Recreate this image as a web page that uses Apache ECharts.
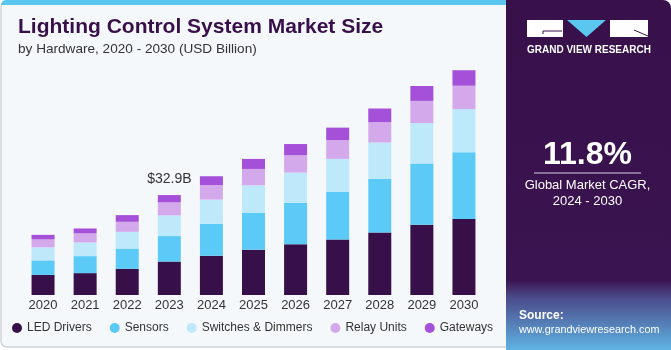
<!DOCTYPE html>
<html>
<head>
    <meta charset="utf-8" />
    <title>Lighting Control System Market Size</title>
    <script src="https://cdn.jsdelivr.net/npm/echarts@6/dist/echarts.min.js"></script>
    <style>
        html, body { margin: 0; padding: 0; background: #fff; }
        #container { width: 671px; height: 350px; }
    </style>
</head>
<body>
    <div id="container"></div>
</body>
</html>
<script>
    // data (USD Billion)
    var years = ['2020', '2021', '2022', '2023', '2024', '2025', '2026', '2027', '2028', '2029', '2030'];
    var ledDrivers = [6.6, 7.2, 8.6, 11.0, 12.9, 14.9, 16.7, 18.3, 20.6, 23.1, 25.0];
    var sensors = [4.8, 5.6, 6.7, 8.4, 10.5, 12.1, 13.7, 15.6, 17.6, 20.2, 22.0];
    var switchesDimmers = [4.3, 4.5, 5.5, 6.8, 8.0, 9.1, 9.9, 10.9, 12.0, 13.3, 14.2];
    var relayUnits = [2.6, 3.0, 3.3, 4.3, 4.8, 5.4, 5.7, 6.2, 6.7, 7.3, 7.7];
    var gateways = [1.5, 1.6, 2.2, 2.4, 2.9, 3.3, 3.7, 4.1, 4.5, 4.9, 5.1];
    var labelIndex = 3; // 2023 total shown on top

    var seriesNames = ['LED Drivers', 'Sensors', 'Switches & Dimmers', 'Relay Units', 'Gateways'];
    var seriesData = [ledDrivers, sensors, switchesDimmers, relayUnits, gateways];
    var colors = ['#37104a', '#5ccaf6', '#bde9fa', '#d4a9ec', '#a550d9'];

    function total(i) {
        var s = 0;
        seriesData.forEach(function (arr) { s += arr[i]; });
        return s;
    }

    var series = seriesData.map(function (arr, k) {
        var isTop = k === seriesData.length - 1;
        return {
            name: seriesNames[k],
            type: 'bar',
            stack: 'total',
            barWidth: 23,
            itemStyle: { color: colors[k] },
            data: arr.map(function (v, i) {
                if (isTop && i === labelIndex) {
                    return {
                        value: v,
                        label: {
                            show: true,
                            position: 'top',
                            distance: 9,
                            color: '#333',
                            fontSize: 14,
                            fontFamily: 'Liberation Sans',
                            formatter: function () { return '$' + total(labelIndex).toFixed(1) + 'B'; }
                        }
                    };
                }
                return v;
            })
        };
    });

    var dom = document.getElementById('container');
    var myChart = echarts.init(dom, null, { renderer: 'canvas' });

    var option = {
        backgroundColor: '#ffffff',
        animation: false,
        textStyle: { fontFamily: 'Liberation Sans' },
        title: [
            {
                text: 'Lighting Control System Market Size',
                left: 18, top: 17, padding: 0,
                textStyle: { fontSize: 21, fontWeight: 'bold', color: '#37104a', fontFamily: 'Liberation Sans' }
            },
            {
                text: 'by Hardware, 2020 - 2030 (USD Billion)',
                left: 18, top: 42, padding: 0,
                textStyle: { fontSize: 13.6, fontWeight: 'normal', color: '#333', fontFamily: 'Liberation Sans' }
            }
        ],
        legend: {
            left: 12, top: 322, padding: 0,
            icon: 'circle',
            itemWidth: 10, itemHeight: 10,
            itemGap: 18,
            textStyle: { fontSize: 12, color: '#333' },
            data: seriesNames
        },
        grid: { left: 22, right: 186, top: 52, bottom: 55 },
        xAxis: {
            type: 'category',
            data: years,
            axisLine: { show: false },
            axisTick: { show: false },
            axisLabel: { color: '#333', fontSize: 13, margin: 4 }
        },
        yAxis: {
            type: 'value',
            min: 0, max: 80,
            show: false,
            splitLine: { show: false }
        },
        graphic: [
            // card
            { type: 'rect', z: -10, shape: { x: 1, y: 1, width: 520, height: 346, r: 6 },
              style: { fill: '#f4f8fb', stroke: '#cfd3d8', lineWidth: 1.5 } },
            { type: 'rect', z: -9, shape: { x: 1, y: 0, width: 515, height: 5, r: [5, 0, 0, 0] },
              style: { fill: '#5bc6ef' } },
            // right panel
            { type: 'rect', z: -8, shape: { x: 506, y: 0, width: 165, height: 350, r: [0, 8, 0, 0] },
              style: {
                  fill: new echarts.graphic.LinearGradient(0, 0, 0, 1, [
                      { offset: 0, color: '#38104a' },
                      { offset: 0.8, color: '#3a1450' },
                      { offset: 0.85, color: '#4b4a8a' },
                      { offset: 1, color: '#5fb3e3' }
                  ])
              } },
            // logo
            { type: 'rect', shape: { x: 527, y: 20, width: 36, height: 17 }, style: { fill: '#fff' } },
            { type: 'polyline', shape: { points: [[543, 31], [562, 31]] }, style: { stroke: '#38104a', lineWidth: 1 } },
            { type: 'polyline', shape: { points: [[543, 31], [543, 34]] }, style: { stroke: '#38104a', lineWidth: 1 } },
            { type: 'polygon', shape: { points: [[567, 20], [606, 20], [586.5, 37]] }, style: { fill: '#5bc6ef' } },
            { type: 'rect', shape: { x: 610, y: 20, width: 38, height: 17 }, style: { fill: '#fff' } },
            { type: 'polyline', shape: { points: [[634, 30], [648, 36]] }, style: { stroke: '#38104a', lineWidth: 1 } },
            { type: 'text', left: 527, top: 45,
              style: { text: 'GRAND VIEW RESEARCH', fill: '#fff', font: 'bold 10px "Liberation Sans"' } },
            // CAGR
            { type: 'text', x: 587.5, y: 155,
              style: { text: '11.8%', fill: '#fff', font: 'bold 32px "Liberation Sans"', align: 'center', verticalAlign: 'middle' } },
            { type: 'line', shape: { x1: 534, y1: 173, x2: 641, y2: 173 }, style: { stroke: '#d8d0e0', lineWidth: 1 } },
            { type: 'text', x: 587.5, y: 185,
              style: { text: 'Global Market CAGR,', fill: '#fff', font: '13px "Liberation Sans"', align: 'center', verticalAlign: 'middle' } },
            { type: 'text', x: 587.5, y: 201,
              style: { text: '2024 - 2030', fill: '#fff', font: '13px "Liberation Sans"', align: 'center', verticalAlign: 'middle' } },
            // source
            { type: 'text', x: 519, y: 316,
              style: { text: 'Source:', fill: '#fff', font: 'bold 12px "Liberation Sans"', verticalAlign: 'middle' } },
            { type: 'text', x: 519, y: 330,
              style: { text: 'www.grandviewresearch.com', fill: '#fff', font: '10.8px "Liberation Sans"', verticalAlign: 'middle' } }
        ],
        series: series
    };

    myChart.setOption(option);
</script>
